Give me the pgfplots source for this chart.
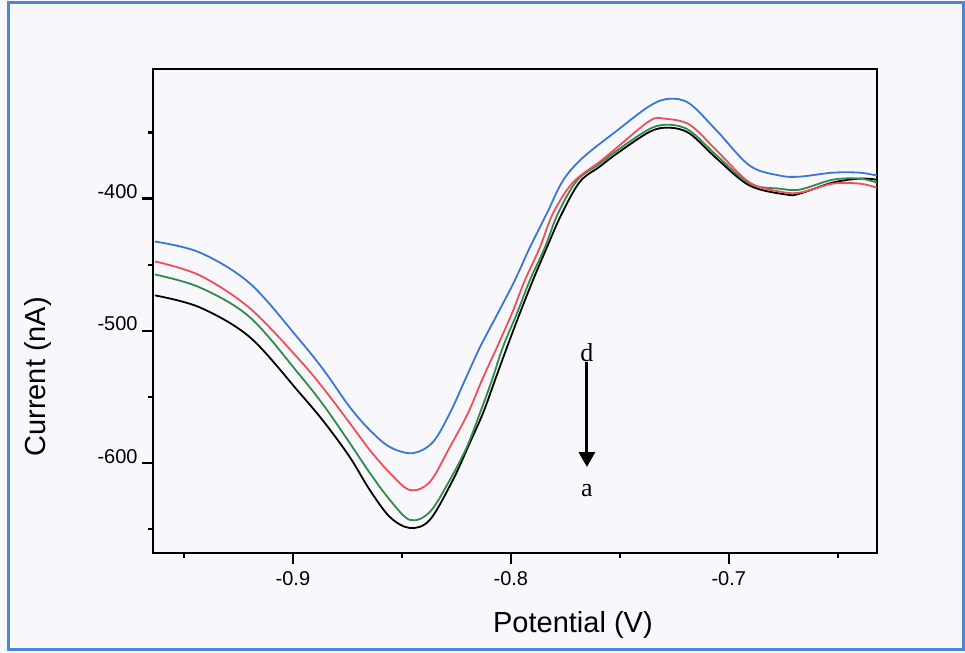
\documentclass[border=0pt]{standalone}
\usepackage{fontspec}
\setmainfont{Liberation Sans}
\newfontfamily\seriffont{Liberation Serif}
\usepackage{pgfplots}
\pgfplotsset{compat=1.18}
\usetikzlibrary{arrows.meta}
\definecolor{cblue}{RGB}{58,118,216}
\definecolor{cred}{RGB}{240,78,88}
\definecolor{cgreen}{RGB}{48,140,72}
\definecolor{framecol}{RGB}{74,134,216}
\definecolor{bgcol}{RGB}{248,248,252}
\begin{document}
\begin{tikzpicture}
\fill[bgcol] (0,0) rectangle (482.5pt,326.5pt);
\useasboundingbox (0,0) rectangle (482.5pt,326.5pt);
\draw[framecol, line width=1.5pt] (4pt,1.5pt) rectangle (481.5pt,325.25pt);
\begin{axis}[
  at={(76.5pt,50pt)}, anchor=south west,
  width=362pt, height=242pt, scale only axis,
  xmin=-0.9642, xmax=-0.632, ymin=-668, ymax=-302,
  axis line style={line width=1.2pt},
  xtick={-0.9,-0.8,-0.7}, xticklabels={-0.9,-0.8,-0.7},
  minor xtick={-0.95,-0.85,-0.75,-0.65},
  ytick={-600,-500,-400}, yticklabels={-600,-500,-400},
  minor ytick={-650,-550,-450,-350},
  xtick pos=bottom, ytick pos=left, tick align=outside,
  major tick length=5.5pt, minor tick length=2.5pt,
  tick style={line width=1.2pt, black},
  /pgf/number format/assume math mode=true,
  ticklabel style={font=\fontsize{10}{12}\selectfont},
  yticklabel style={anchor=base east, inner sep=0pt, xshift=-2pt},
  xlabel={Potential (V)}, ylabel={Current (nA)},
  label style={font=\fontsize{14.5}{17}\selectfont},
  xlabel style={at={(axis description cs:0.58,-0.165)}, anchor=base},
  ylabel style={at={(axis description cs:-0.159,0.364)}, anchor=center},
  every axis plot/.append style={line width=0.9pt, smooth, tension=0.55, no marks},
]
% curve a (black)
\addplot[black] coordinates {
(-0.9633,-473.2) (-0.9427,-482.3) (-0.9197,-504.9) (-0.8968,-547.2) (-0.8853,-569.8) (-0.8739,-595.5)
(-0.8647,-620.4) (-0.8555,-640.8) (-0.8463,-649.1) (-0.8372,-643.0) (-0.8266,-612.8)
(-0.8197,-587.9) (-0.8128,-562.3) (-0.8073,-537.4) (-0.8018,-512.5) (-0.7959,-486.8)
(-0.7899,-461.9) (-0.7835,-437.0) (-0.7766,-411.3) (-0.7683,-387.2) (-0.7592,-375.8)
(-0.7514,-366.0) (-0.7362,-349.4) (-0.7271,-346.4) (-0.7179,-350.9) (-0.7055,-369.8)
(-0.6904,-390.2) (-0.6734,-397.0) (-0.6674,-396.2) (-0.6523,-387.9) (-0.6399,-384.9)
(-0.6321,-385.7)};
% curve b (green)
\addplot[cgreen] coordinates {
(-0.9633,-457.4) (-0.9427,-467.2) (-0.9197,-489.8) (-0.8968,-533.6) (-0.8853,-557.7) (-0.8739,-584.9)
(-0.8647,-607.5) (-0.8555,-627.9) (-0.8463,-643.0) (-0.8372,-637.0) (-0.8280,-612.8)
(-0.8202,-587.9) (-0.8142,-562.3) (-0.8087,-537.4) (-0.8037,-512.5) (-0.7972,-486.8)
(-0.7913,-461.9) (-0.7844,-437.0) (-0.7784,-411.3) (-0.7697,-386.4) (-0.7592,-373.6)
(-0.7514,-363.8) (-0.7362,-347.2) (-0.7271,-344.2) (-0.7179,-348.7) (-0.7055,-367.5)
(-0.6904,-388.7) (-0.6766,-392.5) (-0.6674,-393.2) (-0.6523,-385.7) (-0.6399,-384.9)
(-0.6321,-387.9)};
% curve c (red)
\addplot[cred] coordinates {
(-0.9633,-447.5) (-0.9427,-458.1) (-0.9197,-483.0) (-0.8968,-522.3) (-0.8853,-545.0) (-0.8739,-569.8)
(-0.8647,-590.2) (-0.8555,-607.5) (-0.8463,-620.4) (-0.8372,-614.3) (-0.8280,-587.9)
(-0.8197,-562.3) (-0.8133,-537.4) (-0.8064,-512.5) (-0.7995,-486.8) (-0.7936,-461.9)
(-0.7867,-437.0) (-0.7807,-411.3) (-0.7716,-387.9) (-0.7592,-372.1) (-0.7514,-361.5)
(-0.7362,-341.1) (-0.7294,-339.6) (-0.7179,-344.2) (-0.7055,-363.8) (-0.6904,-387.9)
(-0.6766,-394.7) (-0.6674,-395.5) (-0.6523,-388.7) (-0.6399,-388.7) (-0.6321,-391.7)};
% curve d (blue)
\addplot[cblue] coordinates {
(-0.9633,-432.5) (-0.9427,-440.8) (-0.9197,-464.2) (-0.8968,-507.2) (-0.8853,-531.0) (-0.8739,-557.7)
(-0.8647,-575.1) (-0.8555,-587.9) (-0.8450,-592.5) (-0.8358,-584.2) (-0.8280,-562.3)
(-0.8211,-537.4) (-0.8142,-512.5) (-0.8060,-486.8) (-0.7982,-461.9) (-0.7913,-437.0)
(-0.7835,-411.3) (-0.7761,-386.4) (-0.7670,-369.1) (-0.7514,-348.7) (-0.7362,-329.8)
(-0.7271,-324.5) (-0.7179,-328.3) (-0.7055,-348.7) (-0.6904,-375.1) (-0.6766,-382.6)
(-0.6674,-383.4) (-0.6523,-380.4) (-0.6399,-380.4) (-0.6321,-382.6)};
\draw[line width=1.5pt, -{Triangle[length=7.5pt,width=8pt]}] (axis cs:-0.7651,-523.8) -- (axis cs:-0.7651,-603);
\node[font=\seriffont\fontsize{13}{15}\selectfont, inner sep=0pt] at (axis cs:-0.7651,-516.2) {d};
\node[font=\seriffont\fontsize{13}{15}\selectfont, inner sep=0pt] at (axis cs:-0.7651,-620.4) {a};
\end{axis}
\end{tikzpicture}
\end{document}
